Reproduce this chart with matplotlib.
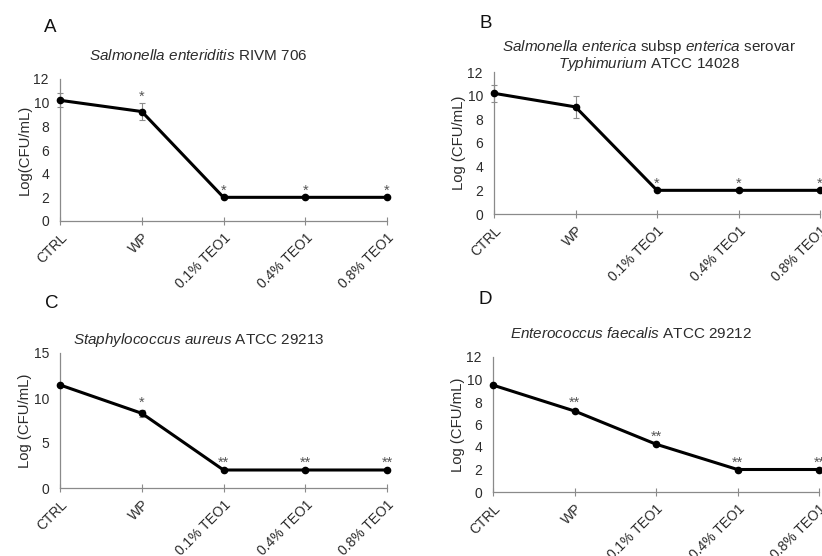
import matplotlib
matplotlib.use("Agg")
import matplotlib.pyplot as plt
from matplotlib.transforms import ScaledTranslation

plt.rcParams['font.family'] = ['Liberation Sans', 'DejaVu Sans']
plt.rcParams['mathtext.fontset'] = 'custom'
plt.rcParams['mathtext.rm'] = 'Liberation Sans'
plt.rcParams['mathtext.it'] = 'Liberation Sans:italic'

# treatment groups on the x axis
groups = ['CTRL', 'WP', '0.1% TEO1', '0.4% TEO1', '0.8% TEO1']

# log CFU/mL per strain, with SD and significance marks
a_vals = [10.2, 9.25, 2.0, 2.0, 2.0]
a_err = [0.6, 0.7, 0.0, 0.0, 0.0]
a_sig = ['', '*', '*', '*', '*']

b_vals = [10.2, 9.05, 2.0, 2.0, 2.0]
b_err = [0.7, 0.95, 0.0, 0.0, 0.0]
b_sig = ['', '', '*', '*', '*']

c_vals = [11.45, 8.3, 2.0, 2.0, 2.0]
c_err = [0.15, 0.4, 0.0, 0.0, 0.0]
c_sig = ['', '*', '**', '**', '**']

d_vals = [9.5, 7.2, 4.25, 2.0, 2.0]
d_err = [0.1, 0.1, 0.1, 0.0, 0.0]
d_sig = ['', '**', '**', '**', '**']

W, H = 822, 556
fig = plt.figure(figsize=(W / 100, H / 100), dpi=100)

AX_GRAY = '#8a8a8a'
TXT = '#2b2b2b'


def px_box(x0, x1, ytop, ybot):
    return [x0 / W, (H - ybot) / H, (x1 - x0) / W, (ybot - ytop) / H]


def panel(box, vals, err, sig, ymax, ystep, ylabel):
    ax = fig.add_axes(box)
    x = list(range(len(groups)))
    ax.errorbar(x, vals, yerr=err, fmt='none', ecolor='#8c8c8c',
                elinewidth=0.8, capsize=2.5, capthick=0.8, clip_on=False, zorder=2)
    ax.plot(x, vals, color='black', lw=2.2, marker='o', ms=4.5,
            clip_on=False, zorder=3)
    for xi, v, e, s in zip(x, vals, err, sig):
        if s:
            ax.annotate(s, (xi, v + e), xytext=(0, 2), textcoords='offset points',
                        ha='center', va='baseline', fontsize=10.5, color='#555555')
    ax.set_xlim(0, 4)
    ax.set_ylim(0, ymax)
    ax.set_yticks(range(0, ymax + 1, ystep))
    ax.set_xticks(x)
    ax.set_xticklabels(groups, rotation=45, ha='right', va='top',
                       rotation_mode='anchor')
    for lab in ax.get_xticklabels():
        lab.set_transform(lab.get_transform() +
                          ScaledTranslation(5 / 100, 0, fig.dpi_scale_trans))
    ax.tick_params(axis='x', direction='inout', length=6, width=0.8,
                   color=AX_GRAY, labelsize=10, labelcolor=TXT, pad=4)
    ax.tick_params(axis='y', length=0, labelsize=10, labelcolor=TXT, pad=8)
    for side in ['top', 'right']:
        ax.spines[side].set_visible(False)
    for side in ['left', 'bottom']:
        ax.spines[side].set_color(AX_GRAY)
        ax.spines[side].set_linewidth(0.9)
    ax.set_ylabel(ylabel, fontsize=10.7, color=TXT, labelpad=1)
    return ax


panel(px_box(60, 387, 79, 221), a_vals, a_err, a_sig, 12, 2, 'Log(CFU/mL)')
panel(px_box(494, 820, 72, 214), b_vals, b_err, b_sig, 12, 2, 'Log (CFU/mL)')
panel(px_box(60, 387, 353, 488), c_vals, c_err, c_sig, 15, 5, 'Log (CFU/mL)')
panel(px_box(493, 819, 357, 492), d_vals, d_err, d_sig, 12, 2, 'Log (CFU/mL)')

titles = [
    (198, 55, r'$\it{Salmonella\ enteriditis}$ RIVM 706'),
    (649, 47, r'$\it{Salmonella\ enterica}$ subsp $\it{enterica}$ serovar'),
    (649, 64, r'$\it{Typhimurium}$ ATCC 14028'),
    (199, 340, r'$\it{Staphylococcus\ aureus}$ ATCC 29213'),
    (631, 333, r'$\it{Enterococcus\ faecalis}$ ATCC 29212'),
]
for tx, ty, t in titles:
    fig.text(tx / W, 1 - ty / H, t, ha='center', va='center',
             fontsize=11, color=TXT)

for tx, ty, letter in [(50, 28, 'A'), (486, 23, 'B'), (52, 303, 'C'), (485, 300, 'D')]:
    fig.text(tx / W, 1 - ty / H, letter, ha='center', va='center',
             fontsize=13.5, color='#111111')

fig.savefig('out.png', dpi=100)
